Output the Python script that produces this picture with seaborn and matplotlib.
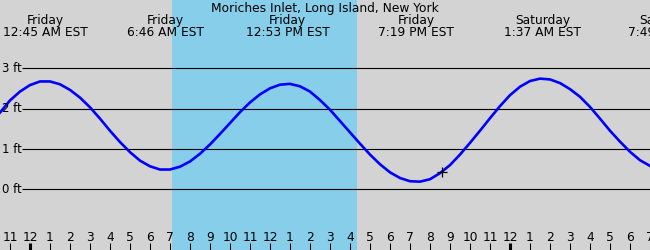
import numpy as np
import pandas as pd
import matplotlib
matplotlib.use("Agg")
import matplotlib.pyplot as plt
import matplotlib.transforms as mtransforms
import seaborn as sns

# ---------------- data ----------------
title = "Moriches Inlet, Long Island, New York"

# tide height (ft) every half hour, hours measured from Friday 00:00
hours = np.arange(-1.5, 31.01, 0.5)
heights = [
    1.90, 2.20, 2.42, 2.58, 2.67, 2.67, 2.60, 2.46, 2.27, 2.03,
    1.75, 1.45, 1.17, 0.92, 0.71, 0.57, 0.49, 0.49, 0.56, 0.69,
    0.88, 1.11, 1.37, 1.64, 1.91, 2.15, 2.35, 2.50, 2.59, 2.61,
    2.55, 2.42, 2.21, 1.97, 1.69, 1.41, 1.13, 0.86, 0.62, 0.42,
    0.28, 0.20, 0.19, 0.25, 0.40, 0.60, 0.86, 1.15, 1.45, 1.76,
    2.06, 2.33, 2.54, 2.68, 2.74, 2.72, 2.63, 2.48, 2.29, 2.04,
    1.75, 1.45, 1.18, 0.93, 0.72, 0.58,
]

# high / low tide events
event_hours = [0.75, 6.77, 12.88, 19.32, 25.62, 31.82]
event_days = ["Friday", "Friday", "Friday", "Friday", "Saturday", "Saturday"]
event_times = ["12:45 AM EST", "6:46 AM EST", "12:53 PM EST",
               "7:19 PM EST", "1:37 AM EST", "7:49 AM EST"]

# daylight
sunrise_h = 7.1
sunset_h = 16.33

# current time marker
now_h = 20.6
now_ft = 0.44

# level lines
levels = [0, 1, 2, 3]
level_labels = ["0 ft", "1 ft", "2 ft", "3 ft"]

# hour ticks
tick_hours = list(range(-1, 32))
tick_labels = ["11", "12", "1", "2", "3", "4", "5", "6", "7", "8", "9", "10",
               "11", "12", "1", "2", "3", "4", "5", "6", "7", "8", "9", "10",
               "11", "12", "1", "2", "3", "4", "5", "6", "7"]
midnight_hours = [0, 24]

# ---------------- figure ----------------
W, H = 650, 250
plt.rcParams["font.family"] = ["DejaVu Sans"]
fs = 8.8

fig = plt.figure(figsize=(W / 100, H / 100), dpi=100)
fig.patch.set_facecolor("#D3D3D3")
ax = fig.add_axes([0, 0, 1, 1])
ax.set_facecolor("none")

ax.axvspan(sunrise_h, sunset_h, color="#87CEEB", zorder=0, lw=0)

df = pd.DataFrame({"hour": hours, "ft": heights})
sns.lineplot(data=df, x="hour", y="ft", color="#0000FF", linewidth=1.9,
             ax=ax, zorder=3, sort=False)

x0, x1 = -1.5, 31.0
ax.set_xlim(x0, x1)
ax.set_ylim(-1.502, 4.686)

# level lines starting at ~22 px from the left
grid_start = x0 + 22 / W * (x1 - x0)
ax.hlines(levels, grid_start, x1, colors="black", linewidth=0.8, zorder=2)
lab_tr = mtransforms.offset_copy(ax.transData, fig=fig, x=0, y=-2.7, units="points")
for lv, lab in zip(levels, level_labels):
    ax.text(x0 + 2 / W * (x1 - x0), lv, lab, transform=lab_tr, ha="left",
            va="baseline", fontsize=fs * 0.95, color="black")

ax.plot([now_h], [now_ft], marker="+", color="black", markersize=7,
        markeredgewidth=0.9, zorder=4, linestyle="none")

# hour ticks
for s in ax.spines.values():
    s.set_visible(False)
ax.set_yticks([])
ax.set_xticks(tick_hours)
ax.set_xticklabels([])
ax.tick_params(axis="x", direction="in", length=5.0, width=0.75,
               color="black", bottom=True, top=False, pad=0)
for tk, h in zip(ax.xaxis.get_major_ticks(), tick_hours):
    if h in midnight_hours:
        tk.tick1line.set_markeredgewidth(2.2)
ax.set_xlabel("")
ax.set_ylabel("")

blend = mtransforms.blended_transform_factory(ax.transData, ax.transAxes)
for h, lab in zip(tick_hours, tick_labels):
    ax.text(h, 1 - 241 / H, lab, transform=blend, ha="center", va="baseline",
            fontsize=fs, color="black")

# event labels
for h, d, t in zip(event_hours, event_days, event_times):
    ax.text(h, 1 - 24 / H, d, transform=blend, ha="center", va="baseline",
            fontsize=fs, color="black")
    ax.text(h, 1 - 36 / H, t, transform=blend, ha="center", va="baseline",
            fontsize=fs, color="black")

fig.text(0.5, 1 - 12 / H, title, ha="center", va="baseline", fontsize=fs,
         color="black")

fig.savefig("out.png", dpi=100, facecolor=fig.get_facecolor())
